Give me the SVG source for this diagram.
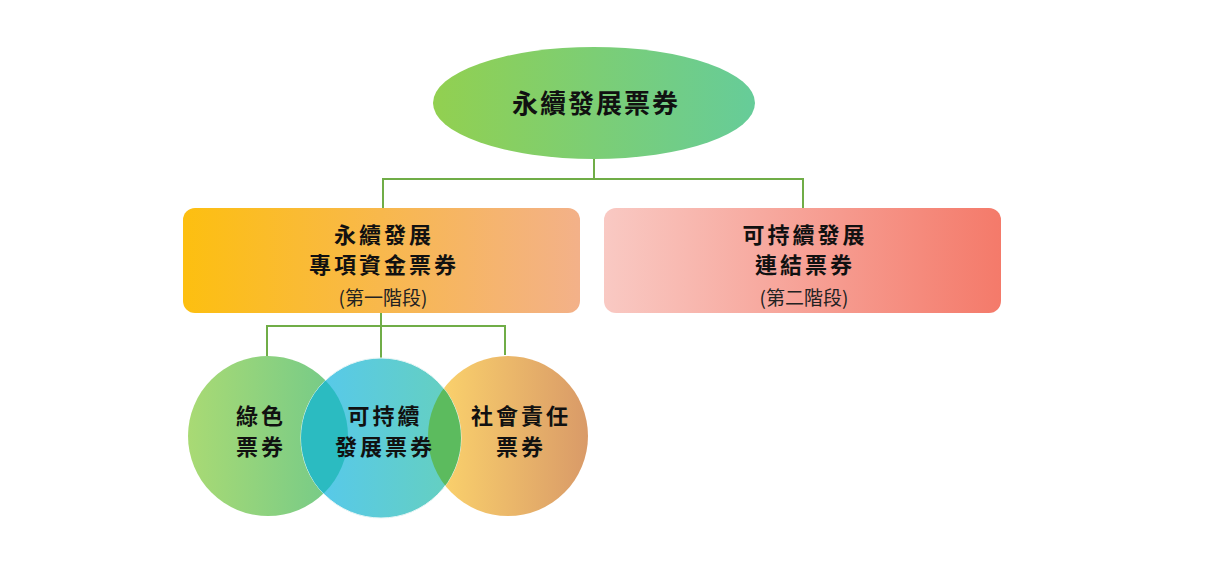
<svg xmlns="http://www.w3.org/2000/svg" width="1221" height="566" viewBox="0 0 1221 566">
<style>
.t{font-family:"Noto Sans CJK TC","Noto Sans CJK SC",sans-serif;fill:#111;text-anchor:middle}
.b{font-weight:bold;font-size:22px;letter-spacing:3px}
.s{font-size:19px;fill:#222}
.c{fill:none;stroke:#70ad47;stroke-width:2}
</style>
<defs>
<linearGradient id="gE" x1="0" x2="1" y1="0" y2="0"><stop offset="0" stop-color="#92d050"/><stop offset="1" stop-color="#66cc99"/></linearGradient>
<linearGradient id="gB1" x1="0" x2="1"><stop offset="0" stop-color="#fdbf10"/><stop offset="1" stop-color="#f3b189"/></linearGradient>
<linearGradient id="gB2" x1="0" x2="1"><stop offset="0" stop-color="#f9c9c3"/><stop offset="1" stop-color="#f47a6a"/></linearGradient>
<linearGradient id="gG" x1="0" x2="1"><stop offset="0" stop-color="#a9da74"/><stop offset="1" stop-color="#70c98a"/></linearGradient>
<linearGradient id="gBl" x1="0" x2="1"><stop offset="0" stop-color="#55c8f0"/><stop offset="1" stop-color="#66d0bd"/></linearGradient>
<linearGradient id="gO" x1="0" x2="1"><stop offset="0" stop-color="#fdd66c"/><stop offset="1" stop-color="#d99a68"/></linearGradient>
<clipPath id="cG"><circle cx="268" cy="436" r="80"/></clipPath>
<clipPath id="cO"><circle cx="508" cy="436" r="80"/></clipPath>
</defs>
<g id="connectors">
<path class="c" d="M594 159V179M383 208V179H803V208"/>
<path class="c" d="M381 313V358M267 356V326H505V355"/>
</g>
<g id="root">
<ellipse cx="594" cy="103" rx="161" ry="56" fill="url(#gE)"/>
<text class="t b" x="596" y="113" style="font-size:26px;letter-spacing:2px">永續發展票券</text>
</g>
<g id="stage1">
<rect x="183" y="208" width="397" height="105" rx="12" fill="url(#gB1)"/>
<text class="t b"><tspan x="384" y="243">永續發展</tspan><tspan x="384" y="273">專項資金票券</tspan></text>
<text class="t s" x="383" y="305">(第一階段)</text>
</g>
<g id="stage2">
<rect x="604" y="208" width="397" height="105" rx="12" fill="url(#gB2)"/>
<text class="t b"><tspan x="805" y="243">可持續發展</tspan><tspan x="805" y="273">連結票券</tspan></text>
<text class="t s" x="804" y="305">(第二階段)</text>
</g>
<g id="green">
<circle cx="268" cy="436" r="80" fill="url(#gG)"/>
</g>
<g id="social">
<circle cx="508" cy="436" r="80" fill="url(#gO)"/>
</g>
<g id="sustain">
<circle cx="381" cy="438" r="80" fill="url(#gBl)" stroke="#e8f6f6" stroke-width="1"/>
<circle cx="381" cy="438" r="80" fill="#2bbbc1" clip-path="url(#cG)"/>
<circle cx="381" cy="438" r="80" fill="#5cbb5e" clip-path="url(#cO)"/>
</g>
<g id="labels">
<text class="t b"><tspan x="261" y="424">綠色</tspan><tspan x="261" y="455">票券</tspan></text>
<text class="t b"><tspan x="385" y="424">可持續</tspan><tspan x="385" y="455">發展票券</tspan></text>
<text class="t b"><tspan x="521" y="424">社會責任</tspan><tspan x="521" y="455">票券</tspan></text>
</g>
</svg>
